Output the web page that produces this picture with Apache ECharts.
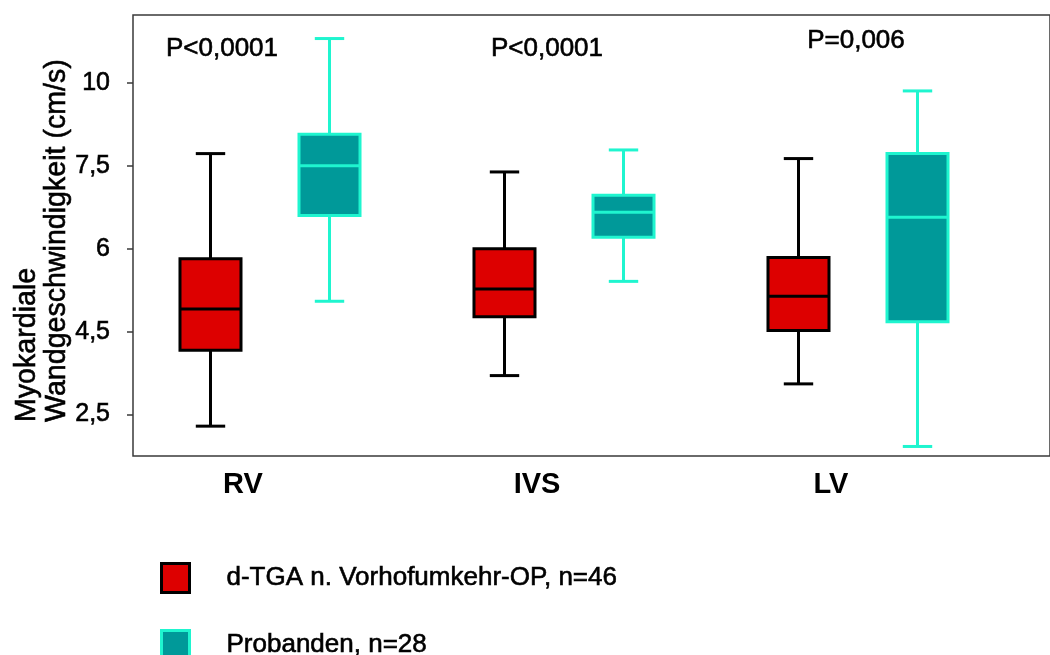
<!DOCTYPE html>
<html><head><meta charset="utf-8">
<script src="https://cdn.jsdelivr.net/npm/echarts@6/dist/echarts.min.js"></script>
<style>html,body{margin:0;padding:0;background:#fff}#c{width:1050px;height:655px}</style>
</head><body><div id="c"></div>
<script>
// ---- data (cm/s) ----
const categories = ['RV', 'IVS', 'LV'];
const seriesNames = ['d-TGA n. Vorhofumkehr-OP, n=46', 'Probanden, n=28'];
// each row: [min, Q1, median, Q3, max]
const tgaStats = [
  [2.22, 4.05, 4.91, 5.82, 7.87],
  [3.44, 4.77, 5.27, 6.00, 7.39],
  [3.24, 4.52, 5.14, 5.84, 7.72]
];
const probandenStats = [
  [5.05, 6.60, 7.50, 8.45, 11.34],
  [5.41, 6.21, 6.66, 6.97, 7.98],
  [1.73, 4.68, 6.57, 7.87, 9.76]
];
const pValues = ['P<0,0001', 'P<0,0001', 'P=0,006'];
const yTickValues = [2.5, 4.5, 6, 7.5, 10];
const yTickLabels = ['2,5', '4,5', '6', '7,5', '10'];
const yTitleLines = ['Myokardiale', 'Wandgeschwindigkeit (cm/s)'];

// the original axis places its labelled ticks at equal distances;
// map a cm/s value to that (piecewise linear) axis position
function toAxis(v) {
  const t = yTickValues;
  let i = 0;
  while (i < t.length - 2 && v > t[i + 1]) i++;
  return i + 1 + (v - t[i]) / (t[i + 1] - t[i]);
}

const FONT = '"Liberation Sans", Arial, Helvetica, sans-serif';
const tickPos = yTickValues.map((_, i) => i + 1);
const yMin = 0.5, yMax = 5.82;
const RED = '#dd0000', TEAL = '#009999', AQUA = '#1ff5cf';
const HEAVY = { textBorderColor: '#000', textBorderWidth: 0.6 };

function boxRenderer(side, stroke, fill) {
  return function (params, api) {
    const i = api.value(0);
    const band = api.size([1, 0])[0];
    const cx = api.coord([i, yMin])[0] + side * band * 0.2024;
    const p = [1, 2, 3, 4, 5].map(d => api.coord([i, api.value(d)])[1]);
    const bw = band * 0.2075, cw = band * 0.1;
    const ls = { stroke: stroke, lineWidth: 3, fill: null };
    return {
      type: 'group',
      children: [
        { type: 'line', shape: { x1: cx, y1: p[0], x2: cx, y2: p[1] }, style: ls },
        { type: 'line', shape: { x1: cx, y1: p[3], x2: cx, y2: p[4] }, style: ls },
        { type: 'line', shape: { x1: cx - cw / 2, y1: p[0], x2: cx + cw / 2, y2: p[0] }, style: ls },
        { type: 'line', shape: { x1: cx - cw / 2, y1: p[4], x2: cx + cw / 2, y2: p[4] }, style: ls },
        { type: 'rect', shape: { x: cx - bw / 2, y: p[3], width: bw, height: p[1] - p[3] },
          style: { fill: fill, stroke: stroke, lineWidth: 3 } },
        { type: 'line', shape: { x1: cx - bw / 2, y1: p[2], x2: cx + bw / 2, y2: p[2] }, style: ls }
      ]
    };
  };
}

function toData(stats) {
  return stats.map((s, i) => [i].concat(s.map(toAxis)));
}

const pPos = [[222, 49], [547, 49], [856, 41]];
const graphic = pValues.map((t, i) => ({
  type: 'text', x: pPos[i][0], y: pPos[i][1], silent: true,
  style: { text: t, font: '26px ' + FONT, fill: '#000', align: 'center', verticalAlign: 'middle',
           textAlign: 'center', textVerticalAlign: 'middle', stroke: '#000', lineWidth: 0.6 }
}));
const titleX = [27, 57];
yTitleLines.forEach((t, i) => graphic.push({
  type: 'text', x: titleX[i], y: 422, rotation: Math.PI / 2, silent: true,
  style: { text: t, font: '28.6px ' + FONT, fill: '#000', align: 'left', verticalAlign: 'middle',
           textAlign: 'left', textVerticalAlign: 'middle', stroke: '#000', lineWidth: 0.6 }
}));

const legendBase = {
  orient: 'vertical', left: 160, padding: 0,
  itemWidth: 28, itemHeight: 29, selectedMode: false,
  textStyle: Object.assign({ fontSize: 26, color: '#000', fontFamily: FONT, padding: [0, 0, 0, 32], lineHeight: 29 }, HEAVY)
};

const chart = echarts.init(document.getElementById('c'), null, { renderer: 'canvas' });
chart.setOption({
  animation: false,
  backgroundColor: '#fff',
  grid: [
    { left: 133, top: 15, right: -10, bottom: 199, show: true, borderColor: '#3a3a3a', borderWidth: 1.5, backgroundColor: 'transparent' },
    { left: 123, top: 15, right: 45, bottom: 199 }
  ],
  xAxis: [
    { gridIndex: 0, type: 'value', show: false, min: 0, max: 1 },
    { gridIndex: 1, type: 'category', data: categories,
      axisLine: { show: false }, axisTick: { show: false },
      axisLabel: { fontSize: 29, fontWeight: 'bold', color: '#000', fontFamily: FONT, margin: 14, padding: [0, 54, 0, 0] } }
  ],
  yAxis: [
    { gridIndex: 0, type: 'value', min: yMin, max: yMax,
      splitLine: { show: false }, axisLine: { show: false },
      axisTick: { show: true, length: 6, lineStyle: { color: '#3a3a3a', width: 1.5 }, customValues: tickPos },
      axisLabel: Object.assign({ customValues: tickPos, formatter: v => yTickLabels[Math.round(v) - 1],
                   fontSize: 25, color: '#000', fontFamily: FONT, margin: 23, padding: [0, 0, 10, 0] }, HEAVY) },
    { gridIndex: 1, type: 'value', min: yMin, max: yMax, show: false, splitLine: { show: false } }
  ],
  legend: [
    Object.assign({ top: 562, data: [
      { name: seriesNames[0], icon: 'rect', itemStyle: { color: RED, borderColor: '#000', borderWidth: 3 } }
    ] }, legendBase),
    Object.assign({ top: 629, data: [
      { name: seriesNames[1], icon: 'rect', itemStyle: { color: TEAL, borderColor: AQUA, borderWidth: 3 } }
    ] }, legendBase)
  ],
  graphic: graphic,
  series: [
    { name: seriesNames[0], type: 'custom', xAxisIndex: 1, yAxisIndex: 1,
      itemStyle: { color: RED }, encode: { x: 0, y: [1, 2, 3, 4, 5] },
      renderItem: boxRenderer(-1, '#000', RED), data: toData(tgaStats) },
    { name: seriesNames[1], type: 'custom', xAxisIndex: 1, yAxisIndex: 1,
      itemStyle: { color: TEAL }, encode: { x: 0, y: [1, 2, 3, 4, 5] },
      renderItem: boxRenderer(1, AQUA, TEAL), data: toData(probandenStats) }
  ]
});
</script></body></html>
